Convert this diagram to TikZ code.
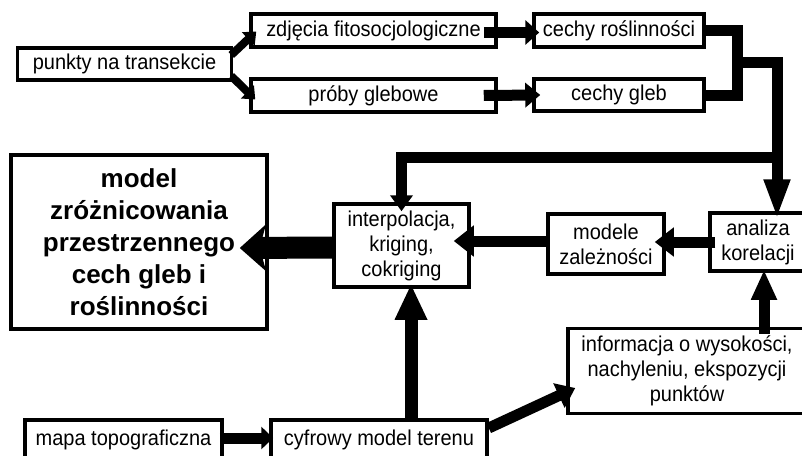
\documentclass[tikz,border=0pt]{standalone}
\usepackage{fontspec}
\setmainfont{Liberation Sans}[FakeStretch=0.93]
\newfontfamily\modelfont{Liberation Sans}
\usetikzlibrary{arrows.meta, calc}

\begin{document}
\begin{tikzpicture}[x=1pt, y=-1pt,
    box/.style={draw, line width=3.5pt, align=center, inner sep=0pt, font=\fontsize{21.5}{25}\selectfont},
    flow/.style={line width=11pt, -{Triangle[length=16pt, width=24pt]}},
    link/.style={line width=11pt}]
    \useasboundingbox (0,0) rectangle (802,455);
    \clip (0,0) rectangle (802,455);

    % Boxes
    \node[box, minimum width=214pt, minimum height=32pt] (punkty) at (124.5,64) {punkty na transekcie};
    \node[box, minimum width=245pt, minimum height=33pt] (zdjecia) at (373.5,30.5) {zdjęcia fitosocjologiczne};
    \node[box, minimum width=245pt, minimum height=33pt] (proby) at (373.5,95.5) {próby glebowe};
    \node[box, minimum width=170pt, minimum height=33pt] (cechyR) at (619,30.5) {cechy roślinności};
    \node[box, minimum width=170pt, minimum height=32pt] (cechyG) at (619,95) {cechy gleb};
    \node[box, minimum width=256pt, minimum height=174pt, font=\modelfont\fontsize{26}{32}\selectfont\bfseries] (model) at (139,242)
        {model\\zróżnicowania\\przestrzennego\\cech gleb i\\roślinności};
    \node[box, minimum width=135pt, minimum height=83pt] (interp) at (401.5,245.5) {interpolacja,\\kriging,\\cokriging};
    \node[box, minimum width=116pt, minimum height=60pt] (modele) at (606,244) {modele\\zależności};
    \node[box, minimum width=96pt, minimum height=58pt] (analiza) at (758,242) {analiza\\korelacji};
    \node[box, minimum width=238pt, minimum height=85pt] (info) at (687,371) {informacja o wysokości,\\nachyleniu, ekspozycji\\punktów};
    \node[box, minimum width=197pt, minimum height=40pt] (mapa) at (123.5,440) {mapa topograficzna};
    \node[box, minimum width=216pt, minimum height=40pt] (cyfrowy) at (379,440) {cyfrowy model terenu};

    % Top row
    \draw[flow, line width=8pt, -{Triangle[length=11pt, width=18pt]}] ($(punkty.east)+(-2,-9)$) -- ($(zdjecia.west)+(7,1)$);
    \draw[flow, line width=8pt, -{Triangle[length=11pt, width=18pt]}] ($(punkty.east)+(-2,12)$) -- ($(proby.west)+(6,4)$);
    \draw[flow, -{Triangle[length=14pt, width=24pt]}] ($(zdjecia.east)+(-14,2)$) -- ($(cechyR.west)+(7,2)$);
    \draw[flow, -{Triangle[length=15pt, width=24pt]}] ($(proby.east)+(-14,0)$) -- ($(cechyG.west)+(8,0)$);

    % Merging lines
    \coordinate (merge) at (737,62);
    \coordinate (split) at (777,157);
    \draw[link] (cechyR.east) -| (merge) |- (cechyG.east);
    \draw[link] (merge) -| (split);
    \draw[flow, -{Triangle[length=16pt, width=22pt]}] (split) -| ($(interp.north)+(0,9)$);
    \draw[flow, -{Triangle[length=40pt, width=24pt]}] (split) -- ($(split |- analiza.north)+(0,8)$);

    % Middle row
    \draw[flow, line width=22pt, -{Stealth[length=26pt, width=46pt, inset=6pt]}] ($(interp.west)+(0,2)$) -- ($(model.east)+(-29,6)$);
    \draw[flow, -{Triangle[length=20pt, width=30pt]}] ($(modele.west)+(0,-3)$) -- ($(interp.east |- modele.west)+(-17,-3)$);
    \draw[flow, -{Triangle[length=19pt, width=28pt]}] ($(analiza.west)+(7,0)$) -- ($(modele.east |- analiza.west)+(-11,0)$);

    % Bottom row
    \draw[flow, -{Triangle[length=30pt, width=24pt]}] ($(analiza.south |- info.north)+(6,7)$) -- ($(analiza.south)+(6,-3)$);
    \draw[flow, line width=13pt, -{Triangle[length=36pt, width=30pt]}] ($(cyfrowy.north)+(32,3)$) -- ($(interp.south)+(9.5,-5)$);
    \draw[flow, -{Triangle[length=12pt, width=22pt]}] ($(mapa.east)+(-4,-2)$) -- ($(cyfrowy.west)+(4,-2)$);
    \draw[flow, -{Triangle[length=18pt, width=26pt]}] ($(cyfrowy.east)+(0,-12)$) -- ($(info.west)+(9,17)$);
\end{tikzpicture}
\end{document}
